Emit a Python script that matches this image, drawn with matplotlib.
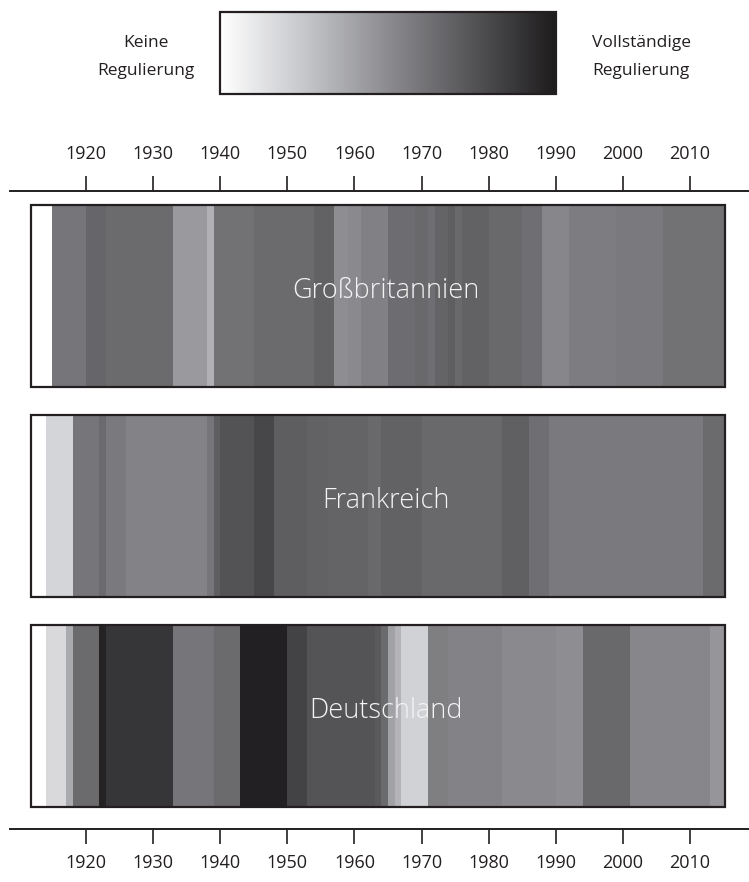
import numpy as np
import matplotlib
matplotlib.use("Agg")
import matplotlib.pyplot as plt
from matplotlib.colors import LinearSegmentedColormap
from matplotlib.patches import Rectangle

# --- data: level of regulation (0 = none, 1 = full) from each start year ---
end_year = 2015
tick_years = list(range(1920, 2011, 10))

gb_starts = [1915, 1920, 1923, 1933, 1938, 1939, 1945, 1954, 1957, 1959,
             1961, 1965, 1969, 1971, 1972, 1974, 1975, 1976, 1980, 1985,
             1988, 1992, 1999, 2006]
gb_levels = [0.60, 0.67, 0.65, 0.44, 0.34, 0.62, 0.65, 0.69, 0.49, 0.51,
             0.55, 0.64, 0.66, 0.63, 0.68, 0.71, 0.66, 0.69, 0.66, 0.63,
             0.52, 0.57, 0.58, 0.62]

fr_starts = [1914, 1918, 1922, 1923, 1926, 1938, 1939, 1940, 1945, 1948,
             1953, 1956, 1962, 1964, 1970, 1982, 1986, 1989, 2012]
fr_levels = [0.19, 0.60, 0.65, 0.58, 0.54, 0.60, 0.71, 0.76, 0.81, 0.71,
             0.69, 0.68, 0.66, 0.69, 0.66, 0.70, 0.63, 0.58, 0.65]

de_starts = [1914, 1917, 1918, 1922, 1923, 1933, 1939, 1943, 1950, 1953,
             1963, 1964, 1965, 1966, 1967, 1971, 1974, 1982, 1990, 1994,
             2001, 2013]
de_levels = [0.17, 0.37, 0.65, 0.97, 0.89, 0.60, 0.65, 0.98, 0.83, 0.75,
             0.73, 0.65, 0.41, 0.33, 0.20, 0.56, 0.54, 0.51, 0.49, 0.66,
             0.52, 0.46]

countries = ["Großbritannien", "Frankreich", "Deutschland"]

# --- layout (pixels of a 749x882 canvas, x in years) -----------------------
W, H = 749, 882
PX_PER_YEAR = (690 - 86) / 90.0
X0 = 1920 - 86 / PX_PER_YEAR
X1 = X0 + W / PX_PER_YEAR
FRAME_X = (1911.8, 2015.2)
PANEL_TOPS = [205, 415, 625]
PANEL_H = 182
INK = "#231f20"
FONT = ["Open Sans", "DejaVu Sans"]

cmap = LinearSegmentedColormap.from_list(
    "regulation", ["#ffffff", "#c6c7cb", "#8c8c90", "#555558", "#1e1c1d"])

fig = plt.figure(figsize=(W / 100, H / 100), dpi=100)
ax = fig.add_axes([0, 0, 1, 1])

panels = [(gb_starts, gb_levels), (fr_starts, fr_levels), (de_starts, de_levels)]
for name, (starts, levels), top in zip(countries, panels, PANEL_TOPS):
    widths = np.diff(starts + [end_year])
    ax.broken_barh(list(zip(starts, widths)), (top, PANEL_H),
                   facecolors=cmap(np.array(levels)), linewidth=0,
                   antialiased=False)
    ax.add_patch(Rectangle((FRAME_X[0], top), FRAME_X[1] - FRAME_X[0], PANEL_H,
                           fill=False, edgecolor=INK, linewidth=1.6))
    ax.text(1964.7, top + PANEL_H / 2 - 5, name, color="#f4f4f4",
            fontsize=19.5, family=FONT, weight="light",
            ha="center", va="center")

# colour key
ax.imshow(np.linspace(0, 1, 256)[None, :], cmap=cmap, aspect="auto",
          extent=(1940, 1990, 94, 12), interpolation="bilinear")
ax.add_patch(Rectangle((1940, 12), 50, 82, fill=False, edgecolor=INK,
                       linewidth=1.6))
ax.text(X0 + 146 / PX_PER_YEAR, 57, "Keine\nRegulierung", fontsize=12.5,
        family=FONT, ha="center", va="center", linespacing=1.95, color=INK)
ax.text(X0 + 641 / PX_PER_YEAR, 57, "Vollständige\nRegulierung", fontsize=12.5,
        family=FONT, ha="center", va="center", linespacing=1.95, color=INK)

ax.set_xlim(X0, X1)
ax.set_ylim(H, 0)
ax.axis("off")


def ruler(y_px, on_top):
    r = fig.add_axes([0, 1 - y_px / H, 1, 0])
    r.set_xlim(X0, X1)
    r.patch.set_visible(False)
    for side in ("left", "right", "top"):
        r.spines[side].set_visible(False)
    r.spines["bottom"].set_bounds(X0 + 10 / PX_PER_YEAR, X1)
    r.spines["bottom"].set_linewidth(1.4)
    r.spines["bottom"].set_color(INK)
    r.set_yticks([])
    r.set_xticks(tick_years)
    r.set_xticklabels([str(t) for t in tick_years], family=FONT, fontsize=13,
                      color=INK)
    if on_top:
        r.tick_params(axis="x", direction="in", length=10.8, width=1.2,
                      color=INK, bottom=True, top=False,
                      labelbottom=False, labeltop=True, pad=20)
    else:
        r.tick_params(axis="x", direction="out", length=10.8, width=1.2,
                      color=INK, pad=7)
    return r


ruler(191, True)
ruler(829, False)

fig.savefig("out.png", dpi=100)
